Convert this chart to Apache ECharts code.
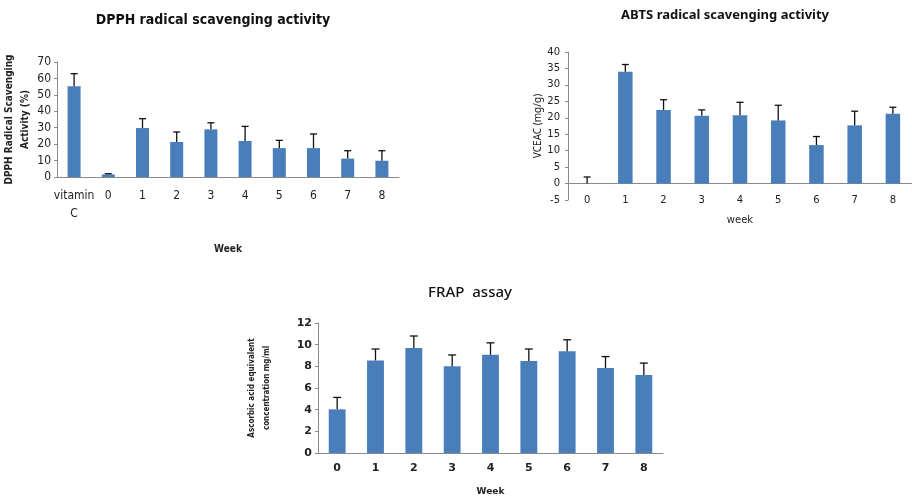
<!DOCTYPE html>
<html>
<head>
    <meta charset="UTF-8">
    <title>Antioxidant activity</title>
    <script src="https://cdn.jsdelivr.net/npm/echarts/dist/echarts.min.js"></script>
    <style>
        html, body { margin: 0; padding: 0; background: #fff; }
        #main { width: 912px; height: 497px; }
    </style>
</head>
<body>
    <div id="main"></div>

    <script type="text/javascript">
        // DPPH (%)
        const dpphWeeks = ['vitamin\nC', '0', '1', '2', '3', '4', '5', '6', '7', '8'];
        const dpphMean = [55.2, 1.6, 29.8, 21.3, 29.0, 21.9, 17.6, 17.6, 11.2, 9.9];
        const dpphSd = [7.7, 0.4, 5.7, 6.1, 4.0, 8.9, 4.7, 8.6, 4.8, 6.1];

        // ABTS VCEAC (mg/g)
        const abtsWeeks = ['0', '1', '2', '3', '4', '5', '6', '7', '8'];
        const abtsMean = [0, 34.0, 22.4, 20.6, 20.8, 19.2, 11.7, 17.7, 21.2];
        const abtsSd = [2.0, 2.2, 3.1, 1.8, 3.9, 4.6, 2.6, 4.3, 2.0];

        // FRAP (mg/ml)
        const frapWeeks = ['0', '1', '2', '3', '4', '5', '6', '7', '8'];
        const frapMean = [4.03, 8.55, 9.7, 8.0, 9.07, 8.5, 9.4, 7.85, 7.2];
        const frapSd = [1.1, 1.05, 1.1, 1.05, 1.1, 1.1, 1.05, 1.05, 1.1];

        const barColor = '#4A7EBB';
        const axisGray = '#8a8a8a';
        const narrow = '"DejaVu Sans Condensed", sans-serif';

        var myChart = echarts.init(document.getElementById('main'));

        // 误差线 (only the upper half, like Excel)
        function errorBars(xi, yi, means, sds, cap) {
            return {
                type: 'custom',
                xAxisIndex: xi,
                yAxisIndex: yi,
                z: 10,
                silent: true,
                data: means.map((m, i) => [i, m, m + sds[i]]),
                renderItem: function (params, api) {
                    const base = api.coord([api.value(0), api.value(1)]);
                    const top = api.coord([api.value(0), api.value(2)]);
                    const st = { stroke: '#111', lineWidth: 1.3 };
                    return {
                        type: 'group',
                        children: [
                            { type: 'line', shape: { x1: base[0], y1: base[1], x2: top[0], y2: top[1] }, style: st },
                            { type: 'line', shape: { x1: top[0] - cap, y1: top[1], x2: top[0] + cap, y2: top[1] }, style: st }
                        ]
                    };
                }
            };
        }

        function yAxisBase(grid, min, max, step, font) {
            return {
                type: 'value',
                gridIndex: grid,
                min: min,
                max: max,
                interval: step,
                splitLine: { show: false },
                axisLine: { show: true, lineStyle: { color: axisGray } },
                axisTick: { show: true, length: 3, lineStyle: { color: axisGray } },
                axisLabel: Object.assign({ color: '#222' }, font)
            };
        }

        var option = {
            backgroundColor: '#fff',
            animation: false,
            graphic: [
                { type: 'text', x: 213, y: 20, style: { text: 'DPPH radical scavenging activity', align: 'center', verticalAlign: 'middle', font: 'bold 14px ' + narrow, fill: '#111' } },
                { type: 'text', x: 725, y: 15, style: { text: 'ABTS radical scavenging activity', align: 'center', verticalAlign: 'middle', font: 'bold 13px "Noto Sans", sans-serif', fill: '#111' } },
                { type: 'text', x: 470, y: 293, style: { text: 'FRAP  assay', align: 'center', verticalAlign: 'middle', font: '500 15px "Noto Sans", sans-serif', fill: '#111' } }
            ],
            grid: [
                { left: 57, top: 62, width: 342, height: 115 },
                { left: 568, top: 52, width: 350, height: 148 },
                { left: 318, top: 323, width: 345, height: 131 }
            ],
            xAxis: [
                {
                    type: 'category', gridIndex: 0, data: dpphWeeks,
                    axisLine: { lineStyle: { color: axisGray } },
                    axisTick: { length: 4, lineStyle: { color: axisGray } },
                    axisLabel: { interval: 0, color: '#222', fontFamily: narrow, fontSize: 12, lineHeight: 18, margin: 10 },
                    name: 'Week', nameLocation: 'middle', nameGap: 67,
                    nameTextStyle: { fontFamily: narrow, fontWeight: 'bold', fontSize: 10, color: '#222' }
                },
                {
                    type: 'category', gridIndex: 1, data: abtsWeeks, position: 'bottom',
                    axisLine: { onZero: true, lineStyle: { color: axisGray } },
                    axisTick: { length: 3, lineStyle: { color: axisGray } },
                    axisLabel: { show: false }
                },
                {
                    type: 'category', gridIndex: 1, data: abtsWeeks, position: 'bottom',
                    axisLine: { show: false, onZero: false },
                    axisTick: { show: false },
                    axisLabel: { interval: 0, color: '#222', fontFamily: 'DejaVu Sans', fontSize: 10, verticalAlign: 'middle', margin: 0 },
                    name: 'week', nameLocation: 'middle', nameGap: 15,
                    nameTextStyle: { fontFamily: 'DejaVu Sans', fontSize: 10, color: '#222' }
                },
                {
                    type: 'category', gridIndex: 2, data: frapWeeks,
                    axisLine: { lineStyle: { color: axisGray } },
                    axisTick: { length: 3, lineStyle: { color: axisGray } },
                    axisLabel: { interval: 0, color: '#222', fontFamily: 'DejaVu Sans', fontWeight: 'bold', fontSize: 11, margin: 10 },
                    name: 'Week', nameLocation: 'middle', nameGap: 34,
                    nameTextStyle: { fontFamily: 'DejaVu Sans', fontWeight: 'bold', fontSize: 9, color: '#222' }
                }
            ],
            yAxis: [
                Object.assign(yAxisBase(0, 0, 70, 10, { fontFamily: narrow, fontSize: 12, margin: 6 }), {
                    name: 'DPPH Radical Scavenging\nActivity (%)', nameLocation: 'middle', nameRotate: 90, nameGap: 18,
                    nameTextStyle: { fontFamily: narrow, fontWeight: 'bold', fontSize: 10, lineHeight: 16, color: '#222' }
                }),
                Object.assign(yAxisBase(1, -5, 40, 5, { fontFamily: 'DejaVu Sans', fontSize: 10, margin: 8 }), {
                    name: 'VCEAC (mg/g)', nameLocation: 'middle', nameRotate: 90, nameGap: 25,
                    nameTextStyle: { fontFamily: '"Noto Sans", sans-serif', fontSize: 10, color: '#222' }
                }),
                Object.assign(yAxisBase(2, 0, 12, 2, { fontFamily: 'DejaVu Sans', fontWeight: 'bold', fontSize: 11, margin: 6 }), {
                    name: 'Ascorbic acid equivalent\nconcentration mg/ml', nameLocation: 'middle', nameRotate: 90, nameGap: 44,
                    nameTextStyle: { fontFamily: narrow, fontWeight: 'bold', fontSize: 8, lineHeight: 15, color: '#222' }
                })
            ],
            series: [
                { type: 'bar', xAxisIndex: 0, yAxisIndex: 0, data: dpphMean, barWidth: '38%', itemStyle: { color: barColor } },
                errorBars(0, 0, dpphMean, dpphSd, 3.5),
                { type: 'bar', xAxisIndex: 1, yAxisIndex: 1, data: abtsMean, barWidth: '38%', itemStyle: { color: barColor } },
                errorBars(1, 1, abtsMean, abtsSd, 3.5),
                { type: 'bar', xAxisIndex: 3, yAxisIndex: 2, data: frapMean, barWidth: '44%', itemStyle: { color: barColor } },
                errorBars(3, 2, frapMean, frapSd, 4)
            ]
        };

        myChart.setOption(option);
    </script>
</body>
</html>
